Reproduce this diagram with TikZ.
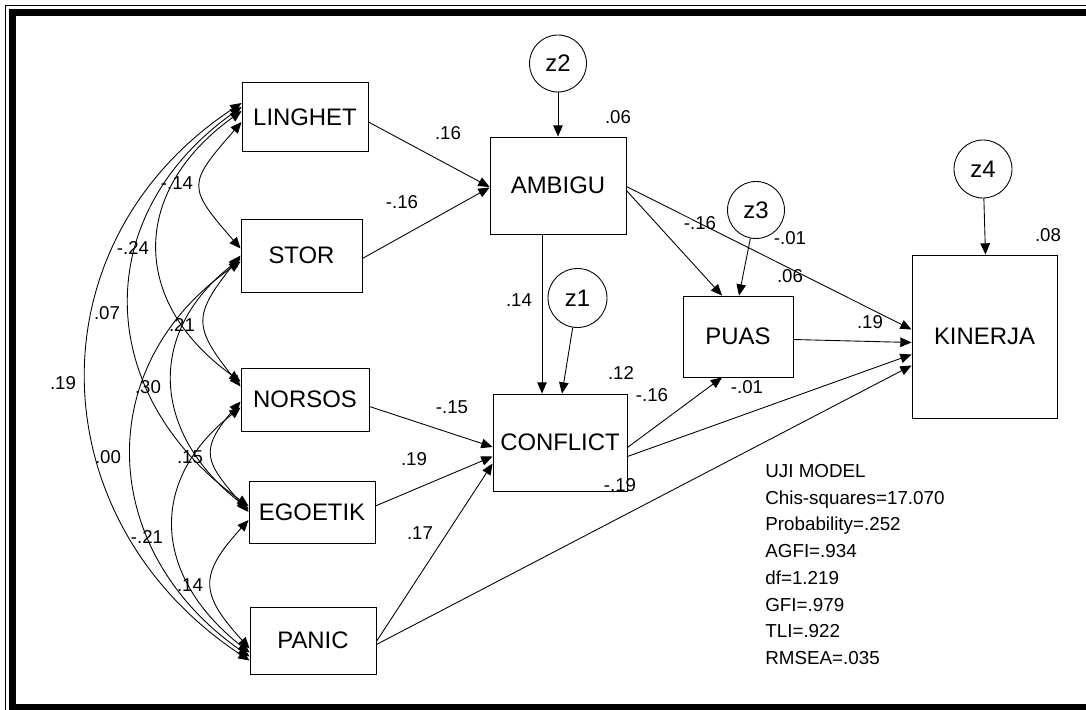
\documentclass[tikz,border=0pt]{standalone}
\usepackage{fontspec}
\setmainfont{Liberation Sans}
\usetikzlibrary{arrows.meta,calc,positioning}
\tikzset{
  obs/.style={draw, line width=0.5pt, inner sep=0, font=\fontsize{13.6}{16}\selectfont},
  err/.style={draw, circle, line width=0.5pt, inner sep=0, minimum size=1.14cm, font=\fontsize{13.6}{16}\selectfont},
  reg/.style={line width=0.5pt, -{Triangle[length=6.4pt,width=5.4pt]}},
  cov/.style={line width=0.5pt, {Triangle[length=6.4pt,width=5.4pt]}-{Triangle[length=6.4pt,width=5.4pt]}},
  lab/.style={inner sep=0, font=\fontsize{10.6}{12}\selectfont}
}

\begin{document}
\begin{tikzpicture}[x=0.02cm, y=-0.02cm]
	\useasboundingbox (0,0) rectangle (1086,710);
	\clip (0,0) rectangle (1086,710);
	% frame
	\draw[line width=0.6pt] (5.8,5.8) rectangle (1120,730);
	\draw[line width=3.9pt] (12.6,12.6) rectangle (1110,707.8);
	
	% exogenous
	\node[obs, minimum width=2.52cm, minimum height=1.38cm] (LINGHET) at (305,117) {LINGHET};
	\node[obs, minimum width=2.42cm, minimum height=1.46cm] (STOR) at (301.5,255.5) {STOR};
	\node[obs, minimum width=2.56cm, minimum height=1.26cm] (NORSOS) at (305,399.5) {NORSOS};
	\node[obs, minimum width=2.52cm, minimum height=1.24cm] (EGOETIK) at (312,512) {EGOETIK};
	\node[obs, minimum width=2.52cm, minimum height=1.34cm] (PANIC) at (313,640.5) {PANIC};
	% endogenous
	\node[obs, minimum width=2.72cm, minimum height=1.94cm] (AMBIGU) at (558,185.5) {AMBIGU};
	\node[obs, minimum width=2.68cm, minimum height=1.94cm] (CONFLICT) at (560,442.5) {CONFLICT};
	\node[obs, minimum width=2.2cm, minimum height=1.62cm] (PUAS) at (738,336.5) {PUAS};
	\node[obs, minimum width=2.9cm, minimum height=3.26cm] (KINERJA) at (984.5,336.5) {KINERJA};
	% errors
	\node[err] (z2) at (558,63.5) {z2};
	\node[err, minimum size=1.18cm] (z1) at (577.5,298) {z1};
	\node[err] (z3) at (756,210) {z3};
	\node[err, minimum size=1.16cm] (z4) at (983,169) {z4};
	
	\draw[reg] (z2) -- (AMBIGU.north);
	\draw[reg] (z1) -- ($(CONFLICT.north)+(2,0)$);
	\draw[reg] (z3) -- ($(PUAS.north)+(1,0)$);
	\draw[reg] (z4) -- ($(KINERJA.north)+(1,0)$);
	
	\draw[reg] ($(LINGHET.east)+(0,5)$) -- ($(AMBIGU.west)+(0,1.5)$);
	\draw[reg] ($(STOR.east)+(0,3)$) -- ($(AMBIGU.west)+(0,2)$);
	\draw[reg] ($(NORSOS.east)+(0,7)$) -- ($(CONFLICT.west)+(0,4.5)$);
	\draw[reg] ($(EGOETIK.east)+(0,-6)$) -- ($(CONFLICT.west)+(0,14)$);
	\draw[reg] ($(PANIC.east)+(0,1)$) -- ($(CONFLICT.west)+(0,21)$);
	\draw[reg] ($(PANIC.east)+(0,4)$) -- ($(KINERJA.west)+(0,29)$);
	\draw[reg] ($(AMBIGU.south)+(-16,0)$) -- ($(CONFLICT.north)+(-18,0)$);
	\draw[reg] ($(AMBIGU.east)+(0,5)$) -- ($(PUAS.north)+(-16,0)$);
	\draw[reg] ($(AMBIGU.east)+(0,1)$) -- ($(KINERJA.west)+(0,-7)$);
	\draw[reg] ($(CONFLICT.east)+(0,5)$) -- ($(PUAS.south)+(-16,0)$);
	\draw[reg] ($(CONFLICT.east)+(0,14)$) -- ($(KINERJA.west)+(0,18)$);
	\draw[reg] ($(PUAS.east)+(0,3)$) -- ($(KINERJA.west)+(0,6)$);
	
	% correlations
	\draw[cov] ($(LINGHET.west)+(0,5)$) .. controls +(-54,62) and +(-54,-62) .. ($(STOR.west)+(0,-7)$);
	\draw[cov] ($(LINGHET.west)+(0,-6)$) .. controls +(-111,80) and +(-111,-80) .. ($(NORSOS.west)+(0,-18)$);
	\draw[cov] ($(LINGHET.west)+(0,-10)$) .. controls +(-154,110) and +(-154,-110) .. ($(EGOETIK.west)+(0,-6)$);
	\draw[cov] ($(LINGHET.west)+(0,-14)$) .. controls +(-212,140) and +(-212,-140) .. ($(PANIC.west)+(0,20)$);
	\draw[cov] (STOR.west) .. controls +(-48,60) and +(-48,-60) .. ($(NORSOS.west)+(0,-13)$);
	\draw[cov] ($(STOR.west)+(0,3)$) .. controls +(-96,75) and +(-96,-75) .. ($(EGOETIK.west)+(0,-3)$);
	\draw[cov] ($(STOR.west)+(0,6)$) .. controls +(-151,105) and +(-151,-105) .. ($(PANIC.west)+(0,16)$);
	\draw[cov] ($(NORSOS.west)+(0,2)$) .. controls +(-43,50) and +(-43,-50) .. (EGOETIK.west);
	\draw[cov] ($(NORSOS.west)+(0,8)$) .. controls +(-95,75) and +(-95,-75) .. ($(PANIC.west)+(0,12)$);
	\draw[cov] ($(EGOETIK.west)+(0,8)$) .. controls +(-50,55) and +(-50,-55) .. ($(PANIC.west)+(0,8)$);
	
	% estimates
	\node[lab] (cLS) at (177,183) {-.14};
	\node[lab] (cLN) at (133,248) {-.24};
	\node[lab] (cLE) at (107,313) {.07};
	\node[lab] (cLP) at (63,383) {.19};
	\node[lab] (cSN) at (182,325) {.21};
	\node[lab] (cSE) at (148,387) {.30};
	\node[lab] (cSP) at (108,457) {.00};
	\node[lab] (cNE) at (190,457) {.15};
	\node[lab] (cNP) at (147,537) {-.21};
	\node[lab] (cEP) at (190,585) {.14};
	
	\node[lab] (bLA) at (448,133) {.16};
	\node[lab] (bSA) at (402,202) {-.16};
	\node[lab] (rA) at (618,117) {.06};
	\node[lab] (bAC) at (519,300) {.14};
	\node[lab] (bAK) at (700,223) {-.16};
	\node[lab] (bAP) at (790,238) {-.01};
	\node[lab] (rP) at (790,276) {.06};
	\node[lab] (bPK) at (870,322) {.19};
	\node[lab] (rK) at (1048,235) {.08};
	\node[lab] (rC) at (621,373) {.12};
	\node[lab] (bCP) at (652,395) {-.16};
	\node[lab] (bCK) at (747,387) {-.01};
	\node[lab] (bNC) at (452,407) {-.15};
	\node[lab] (bEC) at (414,459) {.19};
	\node[lab] (bPaK) at (620,485) {-.19};
	\node[lab] (bPaC) at (420,533) {.17};
	
	% fit
	\node[lab, anchor=north west, align=left, font=\fontsize{10.7}{15.2}\selectfont] (fit) at (765,464) {UJI MODEL\\Chis-squares=17.070\\Probability=.252\\AGFI=.934\\df=1.219\\GFI=.979\\TLI=.922\\RMSEA=.035};
\end{tikzpicture}
\end{document}
